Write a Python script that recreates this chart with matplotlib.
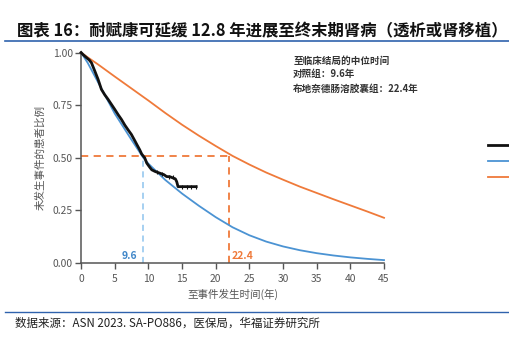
import numpy as np
import matplotlib
matplotlib.use('Agg')
import matplotlib.pyplot as plt

plt.rcParams['font.family'] = ['Noto Sans CJK SC', 'DejaVu Sans']

# 拟合曲线
t_fit = [0, 1, 2.5, 5, 7.5, 9.25, 10, 12.5, 15, 17.5, 20, 22.5, 25, 27.5,
         30, 32.5, 35, 37.5, 40, 42.5, 45]
s_ctrl = [1.0, 0.95, 0.86, 0.71, 0.585, 0.50, 0.472, 0.395, 0.33, 0.272, 0.218,
          0.17, 0.132, 0.102, 0.079, 0.061, 0.047, 0.036, 0.027, 0.02, 0.014]
s_treat = [1.0, 0.977, 0.944, 0.886, 0.829, 0.789, 0.772, 0.713, 0.657, 0.605,
           0.556, 0.509, 0.468, 0.43, 0.396, 0.363, 0.333, 0.303, 0.274, 0.245, 0.215]

# 对照组实际KM曲线
t_km = [0, 0.3, 0.8, 1.2, 1.53, 2.0, 2.52, 3.02, 3.5, 4.0, 4.5, 5.0, 5.5, 6.0,
        6.5, 7.0, 7.47, 8.0, 8.3, 8.71, 9.0, 9.45, 9.75, 10.2, 10.5, 11.0,
        11.7, 12.3, 12.7, 13.2, 14.0, 14.2, 14.4, 17.1]
s_km = [1.0, 0.99, 0.976, 0.965, 0.952, 0.915, 0.873, 0.825, 0.80, 0.778,
        0.754, 0.73, 0.705, 0.682, 0.655, 0.632, 0.611, 0.58, 0.562, 0.538,
        0.518, 0.50, 0.475, 0.455, 0.443, 0.435, 0.427, 0.42, 0.411, 0.41,
        0.40, 0.387, 0.363, 0.363]
t_cens = [11.3, 12.0, 13.0, 13.6, 15.0, 15.7, 16.4, 17.1]
s_cens = [0.433, 0.425, 0.411, 0.41, 0.363, 0.363, 0.363, 0.363]

median_ctrl, median_treat = 9.2, 22.0
median_level = 0.51
xticks = [0, 5, 10, 15, 20, 25, 30, 35, 40, 45]
yticks = [0, 0.25, 0.5, 0.75, 1.0]

c_orange = '#ef7a3a'
c_blue = '#4b93d3'
c_lblue = '#8ec3ee'
c_gray = '#555555'

fig = plt.figure(figsize=(5.1, 3.39), dpi=100)
ax = fig.add_axes([0.159, 0.224, 0.594, 0.621])

l_km, = ax.plot(t_km, s_km, color='#111111', lw=2.0, clip_on=False, zorder=4)
ax.plot(t_cens, s_cens, ls='none', marker='|', ms=3, mew=0.8, color='#111111', zorder=4)
l_ctrl, = ax.plot(t_fit, s_ctrl, color=c_blue, lw=1.3, clip_on=False, zorder=3)
l_treat, = ax.plot(t_fit, s_treat, color=c_orange, lw=1.3, clip_on=False, zorder=3)

ax.plot([0, median_treat], [median_level, median_level], color=c_orange, lw=1.3, ls=(0, (4, 3)), zorder=2)
ax.plot([median_treat, median_treat], [0, median_level], color=c_orange, lw=1.3, ls=(0, (4, 3)), zorder=2)
ax.plot([median_ctrl, median_ctrl], [0, 0.5], color=c_lblue, lw=1.1, ls=(0, (4, 3)), zorder=2)

ax.text(median_ctrl - 0.8, 0.035, '9.6', color='#3f86c8', fontsize=7.5, fontweight='bold',
        ha='right', va='center')
ax.text(median_treat + 0.3, 0.035, '22.4', color=c_orange, fontsize=7.5, fontweight='bold',
        ha='left', va='center')

ax.set_xlim(0, 45)
ax.set_ylim(0, 1.0)
ax.set_xticks(xticks)
ax.set_yticks(yticks)
ax.set_yticklabels(['%.2f' % v for v in yticks])
for s in ['top', 'right']:
    ax.spines[s].set_visible(False)
for s in ['left', 'bottom']:
    ax.spines[s].set_color(c_gray)
    ax.spines[s].set_linewidth(1.1)
ax.tick_params(colors=c_gray, labelsize=7.4, length=4, width=1)
ax.tick_params(axis='x', pad=4)
ax.tick_params(axis='y', pad=2)
ax.set_xlabel('至事件发生时间(年)', fontsize=7.6, color=c_gray, labelpad=3)
ax.set_ylabel('未发生事件的患者比例', fontsize=7.6, color=c_gray, labelpad=5)

ax.text(0.70, 0.962, '至临床结局的中位时间', transform=ax.transAxes,
        fontsize=6.9, fontweight='bold', color='#333333', ha='left', va='center')
ax.text(0.70, 0.90, '对照组：9.6年', transform=ax.transAxes,
        fontsize=6.9, fontweight='bold', color='#333333', ha='left', va='center')
ax.text(0.70, 0.829, '布地奈德肠溶胶囊组：22.4年', transform=ax.transAxes,
        fontsize=6.9, fontweight='bold', color='#333333', ha='left', va='center')

fig.legend([l_km, l_ctrl, l_treat], [' ', ' ', ' '], loc='upper left',
           bbox_to_anchor=(0.948, 0.598), frameon=False, fontsize=8,
           handlelength=2.2, labelspacing=0.55, borderaxespad=0)

fig.text(0.033, 0.908, '图表 16：耐赋康可延缓 12.8 年进展至终末期肾病（透析或肾移植）',
         fontsize=11.8, fontweight='bold', color='#111111', ha='left', va='center')
fig.add_artist(plt.Line2D([0.01, 1.0], [0.879, 0.879], color='#2f62ad', lw=1.2))
fig.add_artist(plt.Line2D([0.01, 1.0], [0.080, 0.080], color='#2f62ad', lw=1.0))
fig.text(0.029, 0.047, '数据来源：ASN 2023. SA-PO886，医保局，华福证券研究所',
         fontsize=8.3, color='#222222', ha='left', va='center')

fig.savefig('out.png', dpi=100)
